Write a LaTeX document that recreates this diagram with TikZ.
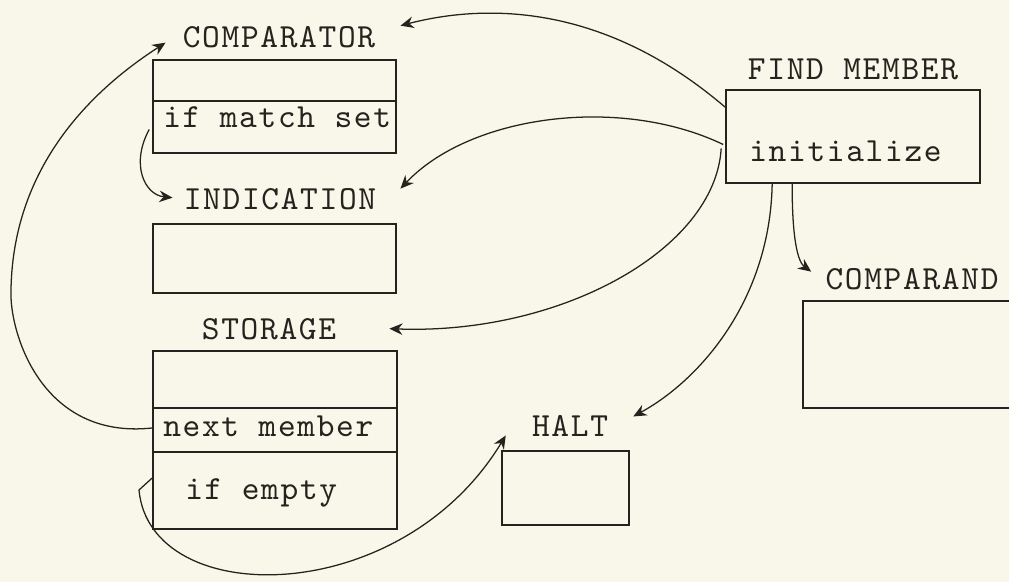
\documentclass[tikz,border=0pt]{standalone}
\usepackage{fontspec}
\newfontfamily\typer{lmmono10-regular.otf}[LetterSpace=5]
\usepackage{tikz}
\usetikzlibrary{calc,positioning,arrows.meta}
\definecolor{paper}{RGB}{248,247,233}
\definecolor{ink}{RGB}{38,34,30}

\begin{document}
\begin{tikzpicture}[x=0.025cm,y=-0.025cm,
    box/.style={rectangle,draw=ink,line width=1.1pt,inner sep=0pt},
    lbl/.style={inner sep=0pt,anchor=base,text=ink,font=\typer\fontsize{24}{28}\selectfont},
    cell/.style={lbl,anchor=base west},
    link/.style={-{Stealth[length=3.3mm,width=2.9mm]},draw=ink,line width=0.9pt}
]
    \path[use as bounding box,fill=paper] (0,0) rectangle (1009,582);

    % Units
    \node[lbl] (comparatorlbl) at (279,48) {COMPARATOR};
    \node[box,minimum width=6.075cm,minimum height=2.325cm] (comparator) at (274.5,106.5) {};
    \draw[ink,line width=1.1pt] ([yshift=-1.05cm]comparator.north west) -- ([yshift=-1.05cm]comparator.north east);
    \node[cell] (matchset) at (163,128) {if match set};

    \node[lbl] (indicationlbl) at (280,210) {INDICATION};
    \node[box,minimum width=6.075cm,minimum height=1.725cm] (indication) at (274.5,258.5) {};

    \node[lbl] (storagelbl) at (269,340) {STORAGE};
    \node[box,minimum width=6.1cm,minimum height=4.45cm] (storage) at (275,440) {};
    \draw[ink,line width=1.1pt] ([yshift=-1.45cm]storage.north west) -- ([yshift=-1.45cm]storage.north east);
    \draw[ink,line width=1.1pt] ([yshift=-2.55cm]storage.north west) -- ([yshift=-2.55cm]storage.north east);
    \node[cell] (nextmember) at (163,437) {next member};
    \node[cell] (ifempty) at (185,500) {if empty};

    \node[lbl] (findmemberlbl) at (853,80) {FIND MEMBER};
    \node[box,minimum width=6.35cm,minimum height=2.325cm] (findmember) at (853,136.5) {};
    \node[cell] (initialize) at (749,162) {initialize};

    \node[lbl] (comparandlbl) at (912,290) {COMPARAND};
    \node[box,minimum width=5.3cm,minimum height=2.675cm] (comparand) at (909,354.5) {};

    \node[lbl] (haltlbl) at (570,437) {HALT};
    \node[box,minimum width=3.175cm,minimum height=1.85cm] (halt) at (565.5,488) {};

    % Find member links
    \draw[link] ($(findmember.north west)+(0,18)$) .. controls (600,0) and (480,5) .. ($(comparatorlbl.east)+(25,-12)$);
    \draw[link] ($(findmember.west)+(-2,8)$) .. controls (620,95) and (470,115) .. ($(indicationlbl.east)+(24,-11)$);
    \draw[link] ($(findmember.west)+(-4,12)$) .. controls (715,250) and (560,335) .. ($(storagelbl.east)+(53,-1)$);
    \draw[link] ($(findmember.south west)+(47,0)$) .. controls (770,300) and (700,380) .. ($(haltlbl.east)+(25,-10)$);
    \draw[link] ($(findmember.south west)+(67,0)$) .. controls (792,240) and (798,262) .. ($(comparandlbl.west)+(-14,-8)$);

    % Local links
    \draw[link] ($(comparator.west)+(-3,23)$) .. controls (130,165) and (145,195) .. ($(indicationlbl.west)+(-11,-2)$);
    \draw[link] ($(storage.west)+(0,-12)$) .. controls (40,440) and (9,330) .. (11,290)
        .. controls (13,160) and (100,85) .. ($(comparatorlbl.west)+(-17,5)$);
    \draw[link] ($(storage.west)+(0,38)$) -- (139,490) .. controls (150,610) and (400,610) .. ($(haltlbl.west)+(-26,9)$);
\end{tikzpicture}
\end{document}
